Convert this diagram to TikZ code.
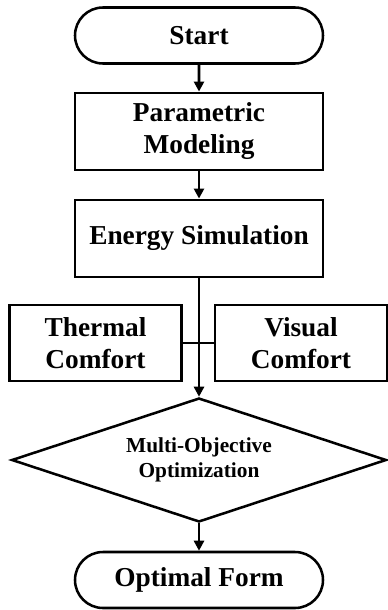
\documentclass[tikz,border=0pt]{standalone}
\usepackage{fontspec}
\setmainfont{Liberation Serif}
\usetikzlibrary{arrows.meta,shapes.geometric,shapes.misc}

\begin{document}
\begin{tikzpicture}[x=0.75pt, y=-0.75pt, >={Triangle[length=7.5pt,width=7.5pt]}, line width=1.9pt,
  every node/.style={font=\fontsize{20.5}{24}\selectfont\bfseries, align=center, inner sep=0pt},
  terminal/.style={draw, rounded rectangle, minimum width=186pt, minimum height=42pt},
  process/.style={draw, rectangle, minimum width=186pt, minimum height=58pt},
  comfort/.style={draw, rectangle, minimum width=129pt, minimum height=57pt},
  decision/.style={draw, diamond, shape aspect=3, minimum width=281pt, minimum height=93pt,
    font=\fontsize{16}{19}\selectfont\bfseries}]
\useasboundingbox (0,0) rectangle (387,610);
\node[terminal] (start) at (199,35.5) {Start};
\node[process] (param) at (199,131.5) {Parametric\\Modeling};
\node[process] (energy) at (199,238.5) {Energy Simulation};
\node[comfort] (thermal) at (95.5,343) {Thermal\\Comfort};
\node[comfort] (visual) at (301,343) {Visual\\Comfort};
\node[decision] (moo) at (199,460) {Multi-Objective\\Optimization};
\node[terminal] (form) at (199,580) {Optimal Form};

% flow
\draw[->] (start) -- (param);
\draw[->] (param) -- (energy);
\draw[->] (energy) -- (moo);
\draw (thermal) -- (visual);
\draw[->] (moo) -- (form);
\end{tikzpicture}
\end{document}
